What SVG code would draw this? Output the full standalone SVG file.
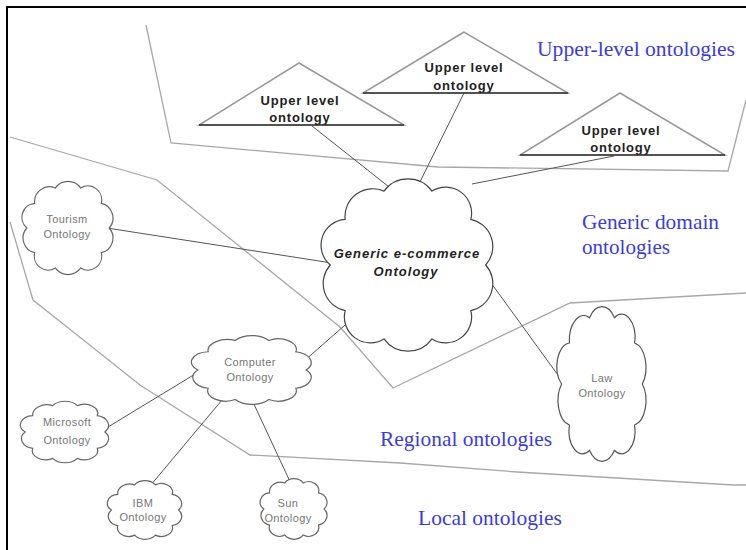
<svg xmlns="http://www.w3.org/2000/svg" xmlns:xlink="http://www.w3.org/1999/xlink" width="746" height="550" viewBox="0 0 746 550">
<style>
.bnd{fill:none;stroke:#a8a8a8;stroke-width:1.3}
.con{fill:none;stroke:#555;stroke-width:1}
.tri{fill:#fff;stroke:#999;stroke-width:1.5}
.base{stroke:#333;stroke-width:1.5}
.tt{font-family:"Liberation Sans",Arial,sans-serif;font-weight:bold;font-size:13px;letter-spacing:0.8px;fill:#222;text-anchor:middle}
.gt{font-family:"Liberation Sans",Arial,sans-serif;font-weight:bold;font-style:italic;font-size:13px;letter-spacing:1px;fill:#222;text-anchor:middle}
.st{font-family:"Liberation Sans",Arial,sans-serif;font-size:11px;letter-spacing:0.4px;fill:#777;text-anchor:middle}
.bl{font-family:"Liberation Serif","Times New Roman",serif;font-size:22px;fill:#3c3cdc}
</style>
<defs>
<path id="cloud" fill="#fff" stroke-width="1.2" vector-effect="non-scaling-stroke" d="M42,0 A15,15 0 0 1 33.98,24.69 A14,14 0 0 1 12.98,39.94 A16,16 0 0 1 -12.98,39.94 A14,14 0 0 1 -33.98,24.69 A15,15 0 0 1 -42,0 A14,14 0 0 1 -33.98,-24.69 A15,15 0 0 1 -12.98,-39.94 A16,16 0 0 1 12.98,-39.94 A14,14 0 0 1 33.98,-24.69 A15,15 0 0 1 42,0 Z"/>
</defs>
<rect x="0" y="0" width="746" height="550" fill="#fff"/>
<g id="frame" stroke="#000" stroke-width="2" fill="none">
<polyline points="7,550 7,7 746,7"/>
</g>
<g id="regions">
<polyline class="bnd" points="146,25 171,143 438,167 728,171 746,100"/>
<polyline class="bnd" points="10,137 157,180 340,327 393,388 570,303 710,295 746,293"/>
<polyline class="bnd" points="10,222 33,300 67,327 140,385 250,455 400,463 517,472 733,485 746,485"/>
</g>
<g id="connectors">
<line class="con" x1="312" y1="126" x2="403" y2="198"/>
<line class="con" x1="464" y1="93" x2="412" y2="198"/>
<line class="con" x1="614" y1="156" x2="472" y2="184"/>
<line class="con" x1="107" y1="228" x2="332" y2="263"/>
<line class="con" x1="478" y1="265" x2="563" y2="382"/>
<line class="con" x1="345" y1="325" x2="303" y2="362"/>
<line class="con" x1="205" y1="368" x2="108" y2="427"/>
<line class="con" x1="222" y1="400" x2="150" y2="486"/>
<line class="con" x1="252" y1="400" x2="293" y2="488"/>
</g>
<g id="t1">
<polygon class="tri" points="299,63 199,125 404,125"/>
<text class="tt" x="300" y="105">Upper level</text>
<text class="tt" x="300" y="122">ontology</text>
<line class="base" x1="199" y1="125" x2="404" y2="125"/>
</g>
<g id="t2">
<polygon class="tri" points="464,32 363,93 568,93"/>
<text class="tt" x="464" y="72">Upper level</text>
<text class="tt" x="464" y="90">ontology</text>
<line class="base" x1="363" y1="93" x2="568" y2="93"/>
</g>
<g id="t3">
<polygon class="tri" points="620,93 520,155 725,155"/>
<text class="tt" x="621" y="135">Upper level</text>
<text class="tt" x="621" y="152">ontology</text>
<line class="base" x1="520" y1="155" x2="725" y2="155"/>
</g>
<g id="generic">
<use xlink:href="#cloud" stroke="#444" transform="translate(408,265) scale(1.85,1.85)"/>
<text class="gt" x="407" y="258">Generic e-commerce</text>
<text class="gt" x="406" y="276">Ontology</text>
</g>
<g id="tourism">
<use xlink:href="#cloud" stroke="#666" transform="translate(68,228) scale(0.98,1)"/>
<text class="st" x="67" y="223">Tourism</text>
<text class="st" x="67" y="238">Ontology</text>
</g>
<g id="computer">
<use xlink:href="#cloud" stroke="#666" transform="translate(252,370) scale(1.29,0.74)"/>
<text class="st" x="250" y="366">Computer</text>
<text class="st" x="250" y="381">Ontology</text>
</g>
<g id="microsoft">
<use xlink:href="#cloud" stroke="#666" transform="translate(65,432) scale(0.95,0.66)"/>
<text class="st" x="67" y="426">Microsoft</text>
<text class="st" x="67" y="444">Ontology</text>
</g>
<g id="ibm">
<use xlink:href="#cloud" stroke="#666" transform="translate(145,510) scale(0.8,0.63)"/>
<text class="st" x="143" y="507">IBM</text>
<text class="st" x="143" y="521">Ontology</text>
</g>
<g id="sun">
<use xlink:href="#cloud" stroke="#666" transform="translate(294,509) scale(0.72,0.65)"/>
<text class="st" x="288" y="507">Sun</text>
<text class="st" x="288" y="522">Ontology</text>
</g>
<g id="law">
<use xlink:href="#cloud" stroke="#555" transform="translate(602,384) scale(0.96,1.66)"/>
<text class="st" x="602" y="382">Law</text>
<text class="st" x="602" y="397">Ontology</text>
</g>
<g id="labels">
<text class="bl" x="537" y="56" textLength="198" lengthAdjust="spacingAndGlyphs">Upper-level ontologies</text>
<text class="bl" x="582" y="229" textLength="137" lengthAdjust="spacingAndGlyphs">Generic domain</text>
<text class="bl" x="582" y="254" textLength="88" lengthAdjust="spacingAndGlyphs">ontologies</text>
<text class="bl" x="380" y="446" textLength="172" lengthAdjust="spacingAndGlyphs">Regional ontologies</text>
<text class="bl" x="418" y="525" textLength="144" lengthAdjust="spacingAndGlyphs">Local ontologies</text>
</g>
</svg>
